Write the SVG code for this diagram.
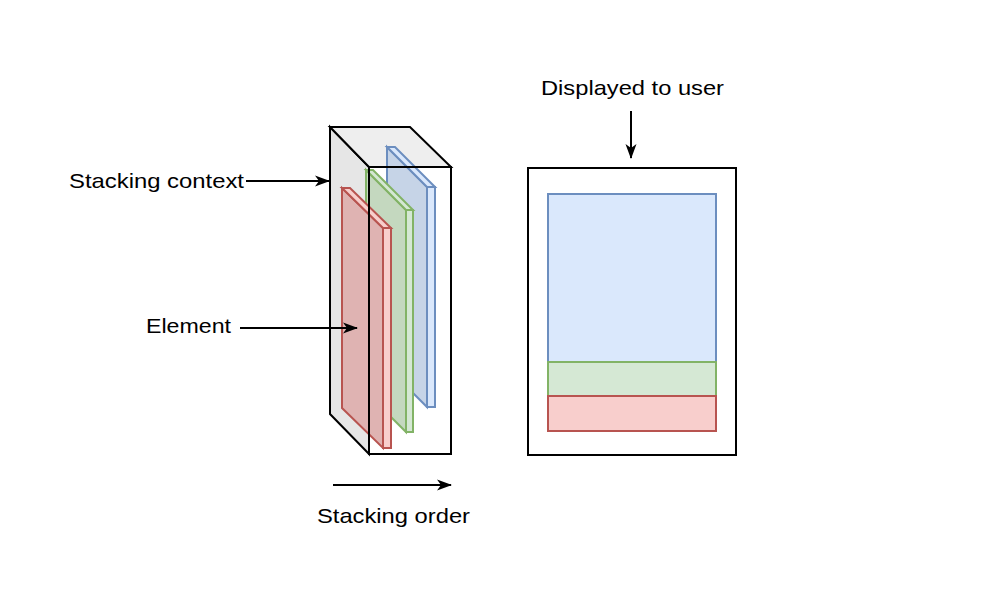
<svg xmlns="http://www.w3.org/2000/svg" width="1000" height="600" viewBox="0 0 1000 600">
<defs>
<style>
text{font-family:"Liberation Sans",Arial,Helvetica,sans-serif;font-size:21px;fill:#000}
.conn{stroke:#000;stroke-width:2;fill:none}
.blk{stroke:#000;stroke-width:2;stroke-linejoin:miter}
.red{stroke:#b85450;stroke-width:2;stroke-linejoin:miter}
.green{stroke:#82b366;stroke-width:2;stroke-linejoin:miter}
.blue{stroke:#6c8ebf;stroke-width:2;stroke-linejoin:miter}
</style>
<marker id="arr" markerUnits="userSpaceOnUse" markerWidth="16" markerHeight="12" refX="14" refY="6" orient="auto" viewBox="0 0 16 12">
<path d="M0,0.5 L15,6 L0,11.5 L4,6 Z" fill="#000"/>
</marker>
</defs>
<rect width="1000" height="600" fill="#fff"/>

<g id="stacking-context-back">
<polygon class="blk" points="330,127 369,167 369,454 330,414" fill="#e6e6e6"/>
<polygon class="blk" points="330,127 410,127 451,167 369,167" fill="#eeeeee"/>
</g>

<g id="element-blue">
<polygon class="blue" points="387,147 427,187 427,407 387,367" fill="#c6d4e7"/>
<polygon class="blue" points="387,147 395,147 435,187 427,187" fill="#dae8fc"/>
<rect class="blue" x="427" y="187" width="8" height="220" fill="#dae8fc"/>
</g>
<g id="element-green">
<polygon class="green" points="366,170 406,210 406,432 366,392" fill="#c4d8bf"/>
<polygon class="green" points="366,170 373,170 413,210 406,210" fill="#d5e8d4"/>
<rect class="green" x="406" y="210" width="7" height="222" fill="#d5e8d4"/>
</g>
<g id="element-red">
<polygon class="red" points="342,188 383,228 383,448 342,408" fill="#dfb3b2"/>
<polygon class="red" points="342,188 350,188 391,228 383,228" fill="#f8cecc"/>
<rect class="red" x="383" y="228" width="8" height="220" fill="#f8cecc"/>
</g>

<g id="stacking-context-front">
<rect class="blk" x="369" y="167" width="82" height="287" fill="none"/>
</g>

<g id="display">
<rect class="blk" x="528" y="168" width="208" height="287" fill="#fff"/>
</g>
<g id="display-blue">
<rect class="blue" x="548" y="194" width="168" height="168" fill="#dae8fc"/>
</g>
<g id="display-green">
<rect class="green" x="548" y="362" width="168" height="34" fill="#d5e8d4"/>
</g>
<g id="display-red">
<rect class="red" x="548" y="396" width="168" height="35" fill="#f8cecc"/>
</g>

<g id="label-stacking-context"><text x="69" y="188" textLength="175" lengthAdjust="spacingAndGlyphs">Stacking context</text></g>
<g id="label-element"><text x="146" y="333" textLength="85" lengthAdjust="spacingAndGlyphs">Element</text></g>
<g id="label-displayed"><text x="541" y="95" textLength="183" lengthAdjust="spacingAndGlyphs">Displayed to user</text></g>
<g id="label-stacking-order"><text x="317" y="523" textLength="153" lengthAdjust="spacingAndGlyphs">Stacking order</text></g>

<g id="connectors">
<line class="conn" x1="246" y1="181" x2="329" y2="181" marker-end="url(#arr)"/>
<line class="conn" x1="240" y1="328" x2="357" y2="328" marker-end="url(#arr)"/>
<line class="conn" x1="631" y1="111" x2="631" y2="158" marker-end="url(#arr)"/>
<line class="conn" x1="333" y1="485" x2="451" y2="485" marker-end="url(#arr)"/>
</g>
</svg>
